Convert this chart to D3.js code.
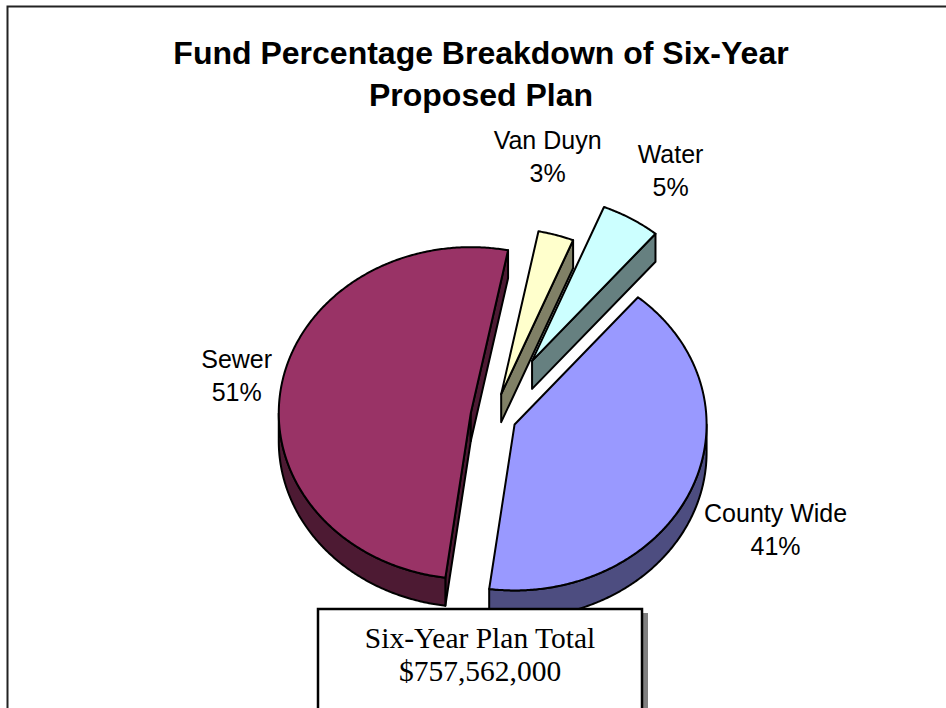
<!DOCTYPE html>
<html><head><meta charset="utf-8">
<script src="https://cdn.jsdelivr.net/npm/d3@7"></script>
<style>body{margin:0;background:#fff;overflow:hidden}</style>
</head><body>
<svg id="chart" width="946" height="708"></svg>
<script>
// ---- data ----
const categories = ["County Wide", "Sewer", "Van Duyn", "Water"];
const values = [41, 51, 3, 5];
const titleLines = ["Fund Percentage Breakdown of Six-Year", "Proposed Plan"];
const totalLines = ["Six-Year Plan Total", "$757,562,000"];

// ---- styling / layout config ----
const topColors = ["#9999FF", "#993366", "#FFFFCC", "#CCFFFF"];
const sideColors = ["#4D4D80", "#4D1A33", "#808066", "#668080"];
const explode = [0.12, 0.12, 0.14, 0.39];
const labelRadius = [1.50, 1.24, 1.45, 1.35];
const labelShiftDeg = [1.2, 1.1, -7, 1.3];

const W = 946, H = 708;
const cx = 493.5, cy = 416.4, rx = 192, ry = 166, depth = 28;
const startDeg = 40;
const rad = Math.PI / 180;

const svg = d3.select("#chart");

// chart border
svg.append("path").attr("d", `M7.5,${H + 10}V6.5H${W + 10}`)
  .attr("fill", "none").attr("stroke", "#222").attr("stroke-width", 2);

// title
const title = svg.append("text").attr("text-anchor", "middle")
  .attr("font-family", "Liberation Sans, Arial, sans-serif")
  .attr("font-weight", "bold").attr("font-size", 32).attr("fill", "#000");
titleLines.forEach((t, i) => title.append("tspan").attr("x", 481).attr("y", 64 + i * 42).text(t));

// scales for ellipse coordinates
const sx = d3.scaleLinear().domain([-1, 1]).range([-rx, rx]);
const sy = d3.scaleLinear().domain([-1, 1]).range([ry, -ry]);

const pie = d3.pie().sort(null).value(d => d)
  .startAngle(startDeg * rad).endAngle(startDeg * rad + 2 * Math.PI);
const arcs = pie(values);

function pt(c, ang, r, h) {
  return [c[0] + sx(r * Math.sin(ang)), c[1] + sy(r * Math.cos(ang)) + h];
}
function arcPts(c, a0, a1, h) {
  const n = Math.max(2, Math.ceil(Math.abs(a1 - a0) / (0.5 * rad)));
  return d3.range(n + 1).map(k => pt(c, a0 + (a1 - a0) * k / n, 1, h));
}
const line = d3.line();

const slices = arcs.map((a, i) => {
  const mid = (a.startAngle + a.endAngle) / 2;
  const c = [cx + sx(explode[i] * Math.sin(mid)), cy + sy(explode[i] * Math.cos(mid))];
  return { i, a0: a.startAngle, a1: a.endAngle, mid, c };
});

const g = svg.append("g").attr("stroke", "#000").attr("stroke-width", 2)
  .attr("stroke-linejoin", "round");

slices.slice().sort((p, q) => p.c[1] - q.c[1]).forEach(s => {
  const { i, a0, a1, c } = s;
  // radial faces
  if (Math.sin(a0) < 0) {
    g.append("path").attr("fill", sideColors[i])
      .attr("d", line([pt(c, a0, 0, 0), pt(c, a0, 1, 0), pt(c, a0, 1, depth), pt(c, a0, 0, depth)]) + "Z");
  }
  if (Math.sin(a1) > 0) {
    g.append("path").attr("fill", sideColors[i])
      .attr("d", line([pt(c, a1, 0, 0), pt(c, a1, 1, 0), pt(c, a1, 1, depth), pt(c, a1, 0, depth)]) + "Z");
  }
  // curved front wall
  [0, 1].forEach(k => {
    const f0 = Math.PI / 2 + 2 * Math.PI * k, f1 = 1.5 * Math.PI + 2 * Math.PI * k;
    const b0 = Math.max(a0, f0), b1 = Math.min(a1, f1);
    if (b1 > b0) {
      const topA = arcPts(c, b0, b1, 0);
      const botA = arcPts(c, b1, b0, depth);
      g.append("path").attr("fill", sideColors[i]).attr("d", line(topA.concat(botA)) + "Z");
    }
  });
  // top face
  g.append("path").attr("fill", topColors[i])
    .attr("d", line([pt(c, a0, 0, 0)].concat(arcPts(c, a0, a1, 0))) + "Z");
});

// data labels
const fmt = d3.format(".0%");
const total = d3.sum(values);
slices.forEach(s => {
  const ang = s.mid + labelShiftDeg[s.i] * rad;
  const p = pt(s.c, ang, labelRadius[s.i], 0);
  const t = svg.append("text").attr("text-anchor", "middle")
    .attr("font-family", "Liberation Sans, Arial, sans-serif")
    .attr("font-size", 25).attr("fill", "#000");
  t.append("tspan").attr("x", p[0]).attr("y", p[1] - 8).text(categories[s.i]);
  t.append("tspan").attr("x", p[0]).attr("y", p[1] + 25).text(fmt(values[s.i] / total));
});

// total text box
svg.append("rect").attr("x", 324).attr("y", 613).attr("width", 324).attr("height", 200).attr("fill", "#808080");
svg.append("rect").attr("x", 318).attr("y", 609).attr("width", 324).attr("height", 200)
  .attr("fill", "#fff").attr("stroke", "#000").attr("stroke-width", 2.5);
const tb = svg.append("text").attr("text-anchor", "middle")
  .attr("font-family", "Liberation Serif, Times New Roman, serif")
  .attr("font-size", 29.5).attr("fill", "#000");
totalLines.forEach((t, i) => tb.append("tspan").attr("x", 480).attr("y", 648 + i * 33).text(t));
</script>
</body></html>
